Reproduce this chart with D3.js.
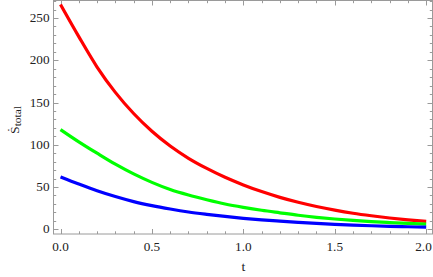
<!DOCTYPE html>
<html>
<head>
<meta charset="utf-8">
<script src="https://cdn.jsdelivr.net/npm/d3@7"></script>
<style>
  body { margin: 0; background: #fff; }
  svg { display: block; }
  .frame { fill: none; stroke: #9a9a9a; stroke-width: 1; }
  .tick { stroke: #9a9a9a; stroke-width: 1; }
  .ticklabel { font-size: 11.5px; fill: #222; }
  .axislabel { font-size: 12px; fill: #222; }
</style>
</head>
<body>
<svg id="chart" width="433" height="277"></svg>
<script>
// sample times
var times = [0.0, 0.1, 0.2, 0.3, 0.4, 0.5, 0.6, 0.7, 0.8, 0.9, 1.0,
             1.1, 1.2, 1.3, 1.4, 1.5, 1.6, 1.7, 1.8, 1.9, 2.0];
// values
var redVals   = [266, 228, 192, 162, 137, 116, 98.5, 84, 72, 61.5, 52.5,
                 44.6, 37.8, 32, 27, 22.7, 19, 16, 13.4, 11.2, 9.4];
var greenVals = [118, 103.5, 90, 77, 65.5, 55.5, 47, 40.5, 35, 30, 26,
                 22.5, 19.5, 16.6, 14.2, 12.2, 10.5, 9.1, 8, 7, 6.2];
var blueVals  = [62, 53.6, 45.7, 38.8, 32.8, 28, 24, 20.5, 17.7, 15.2, 13,
                 11.2, 9.7, 8.3, 7.0, 5.9, 5.0, 4.2, 3.5, 3.0, 2.5];
var xTickLabels = [0.0, 0.5, 1.0, 1.5, 2.0];
var yTickLabels = [0, 50, 100, 150, 200, 250];

var series = [
    {vals: redVals, color: "#ff0000"},
    {vals: greenVals, color: "#00ff00"},
    {vals: blueVals, color: "#0000ff"}
];

var serif = "Liberation Serif";
var frameL = 53.5, frameR = 432.5, frameT = 0.5, frameB = 234;

var xScale = d3.scaleLinear().domain([0, 2]).range([60.5, 426.2]);
var yScale = d3.scaleLinear().domain([0, 250]).range([229.3, 18]);

var svg = d3.select("#chart");

// ticks on all four sides, labels only bottom / left
var xMinor = d3.range(0, 2.0001, 0.1);
var yMinor = d3.range(0, yScale.invert(frameT), 10);

function isMajor(v, step) { return Math.abs(v / step - Math.round(v / step)) < 1e-6; }

xMinor.forEach(function(v) {
    var x = Math.round(xScale(v)) + 0.5;
    var len = isMajor(v, 0.5) ? 5 : 2.7;
    svg.append("line").attr("class", "tick")
        .attr("x1", x).attr("x2", x).attr("y1", frameB).attr("y2", frameB - len);
    svg.append("line").attr("class", "tick")
        .attr("x1", x).attr("x2", x).attr("y1", frameT).attr("y2", frameT + len);
});

yMinor.forEach(function(v) {
    var y = Math.round(yScale(v)) + 0.5;
    var len = isMajor(v, 50) ? 5 : 2.7;
    svg.append("line").attr("class", "tick")
        .attr("x1", frameL).attr("x2", frameL + len).attr("y1", y).attr("y2", y);
    svg.append("line").attr("class", "tick")
        .attr("x1", frameR).attr("x2", frameR - len).attr("y1", y).attr("y2", y);
});

// labels are a bit wider than the font, stretch them a little
// last x label is pulled in so it stays inside the picture
svg.selectAll(".xlab").data(xTickLabels).enter().append("text")
    .attr("class", "ticklabel")
    .attr("font-family", serif)
    .attr("transform", function(d) {
        return "translate(" + Math.min(xScale(d), 423.5) + ",250.7) scale(1.15,1)";
    })
    .attr("text-anchor", "middle")
    .text(function(d) { return d.toFixed(1); });

svg.selectAll(".ylab").data(yTickLabels).enter().append("text")
    .attr("class", "ticklabel")
    .attr("font-family", serif)
    .attr("transform", function(d) { return "translate(49.5," + (yScale(d) + 4) + ") scale(1.15,1)"; })
    .attr("text-anchor", "end")
    .text(function(d) { return d; });

// curves
var line = d3.line()
    .x(function(d, i) { return xScale(times[i]); })
    .y(function(d) { return yScale(d); })
    .curve(d3.curveMonotoneX);

series.forEach(function(s) {
    svg.append("path")
        .attr("d", line(s.vals))
        .attr("fill", "none")
        .attr("stroke", s.color)
        .attr("stroke-width", 3.2);
});

// frame
svg.append("rect").attr("class", "frame")
    .attr("x", frameL).attr("y", frameT)
    .attr("width", frameR - frameL).attr("height", frameB - frameT);

// axis labels
svg.append("text").attr("class", "axislabel")
    .attr("font-family", serif)
    .attr("transform", "translate(" + xScale(1.0) + ",271) scale(1.15,1)")
    .attr("text-anchor", "middle")
    .text("t");

var ylab = svg.append("text").attr("class", "axislabel")
    .attr("font-family", serif)
    .attr("transform", "translate(18.5,120) rotate(-90) scale(1.15,1)")
    .attr("text-anchor", "middle");
ylab.append("tspan").text("\u1E60");
ylab.append("tspan").attr("dy", 2).attr("font-size", "10px").text("total");
</script>
</body>
</html>
